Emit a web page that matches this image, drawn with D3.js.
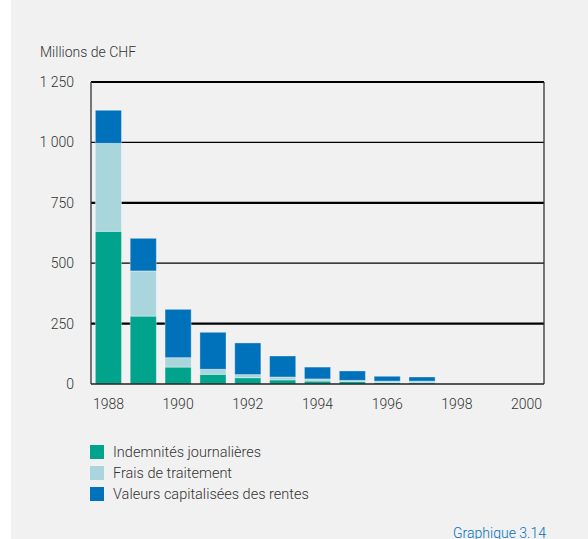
<!DOCTYPE html>
<html>
<head>
<meta charset="utf-8">
<script src="https://cdn.jsdelivr.net/npm/d3@7"></script>
<style>
  body { margin: 0; background: #fff; }
  svg { display: block; font-family: Roboto, "Liberation Sans", sans-serif; font-weight: 300; }
</style>
</head>
<body>
<svg id="chart" width="588" height="539"></svg>
<script>
// Data (millions de CHF)
const years = [1988, 1989, 1990, 1991, 1992, 1993, 1994, 1995, 1996, 1997, 1998, 1999, 2000];
const indemnites = [632, 281, 70, 40, 26, 17, 12, 10, 6, 5, 0, 0, 0];
const fraisTraitement = [364, 187, 39, 21, 13, 12, 9, 5, 6, 7, 0, 0, 0];
const valeursRentes = [137, 135, 200, 153, 131, 87, 49, 39, 20, 17, 0, 0, 0];
const seriesNames = ["Indemnités journalières", "Frais de traitement", "Valeurs capitalisées des rentes"];
const seriesColors = ["#00a38b", "#a9d6dc", "#0071bb"];
const yTicks = [0, 250, 500, 750, 1000, 1250];
const xLabelYears = [1988, 1990, 1992, 1994, 1996, 1998, 2000];

const svg = d3.select("#chart");
const margin = { left: 91, right: 44, top: 82, bottom: 155 };
const width = 588, height = 539;

svg.append("rect")
  .attr("x", 11).attr("y", 0)
  .attr("width", width - 11).attr("height", height)
  .attr("fill", "#f1f1f1");

const x = d3.scaleBand()
  .domain(years)
  .range([margin.left, width - margin.right])
  .paddingInner(0.25)
  .paddingOuter(0.125);

const y = d3.scaleLinear()
  .domain([0, 1250])
  .range([height - margin.bottom, margin.top]);

// gridlines
svg.append("g").selectAll("line")
  .data(yTicks.filter((d) => d > 0))
  .join("line")
  .attr("x1", margin.left).attr("x2", width - margin.right)
  .attr("y1", (d) => y(d)).attr("y2", (d) => y(d))
  .attr("stroke", "#000")
  .attr("stroke-width", (d) => (d % 500 === 0 ? 1.2 : 2.2));

// stacked bars
const table = years.map((yr, i) => ({
  year: yr, s0: indemnites[i], s1: fraisTraitement[i], s2: valeursRentes[i]
}));
const stack = d3.stack().keys(["s0", "s1", "s2"]);
const stacked = stack(table);

svg.append("g").selectAll("g")
  .data(stacked)
  .join("g")
  .attr("fill", (d, i) => seriesColors[i])
  .selectAll("rect")
  .data((d) => d.filter((v) => v[1] - v[0] > 0))
  .join("rect")
  .attr("x", (d) => x(d.data.year))
  .attr("width", x.bandwidth())
  .attr("y", (d) => y(d[1]))
  .attr("height", (d) => y(d[0]) - y(d[1]))
  .attr("stroke", "#ffffff")
  .attr("stroke-opacity", 0.35)
  .attr("stroke-width", 1);

// frame: left, right, bottom
const x0 = margin.left, x1 = width - margin.right;
const yb = y(0), yt = y(1250);
svg.append("line").attr("x1", x0).attr("x2", x0).attr("y1", yt).attr("y2", yb)
  .attr("stroke", "#333").attr("stroke-width", 1.3);
svg.append("line").attr("x1", x1).attr("x2", x1).attr("y1", yt).attr("y2", yb)
  .attr("stroke", "#333").attr("stroke-width", 1.3);
svg.append("line").attr("x1", x0).attr("x2", x1).attr("y1", yb).attr("y2", yb)
  .attr("stroke", "#222").attr("stroke-width", 1.3);

// y labels
const fmt = (d) => d3.format(",")(d).replace(",", " ");
svg.append("g").selectAll("text")
  .data(yTicks)
  .join("text")
  .attr("x", 74)
  .attr("y", (d) => y(d) + 5)
  .attr("text-anchor", "end")
  .attr("font-size", 14)
  .attr("fill", "#333")
  .text(fmt);

// x labels
svg.append("g").selectAll("text")
  .data(xLabelYears)
  .join("text")
  .attr("x", (d) => x(d) + x.bandwidth() / 2)
  .attr("y", yb + 25)
  .attr("text-anchor", "middle")
  .attr("font-size", 14)
  .attr("fill", "#333")
  .text((d) => d);

svg.append("text")
  .attr("x", 40).attr("y", 57)
  .attr("font-size", 14)
  .attr("fill", "#333")
  .text("Millions de CHF");

// legend
const legend = svg.append("g").selectAll("g")
  .data(seriesNames)
  .join("g")
  .attr("transform", (d, i) => `translate(90,${445 + i * 21})`);
legend.append("rect")
  .attr("width", 14).attr("height", 14)
  .attr("fill", (d, i) => seriesColors[i]);
legend.append("text")
  .attr("x", 23).attr("y", 12)
  .attr("font-size", 14.5)
  .attr("fill", "#333")
  .text((d) => d);

svg.append("text")
  .attr("x", 453).attr("y", 538)
  .attr("font-size", 14)
  .attr("fill", "#0071bb")
  .text("Graphique 3.14");
</script>
</body>
</html>
